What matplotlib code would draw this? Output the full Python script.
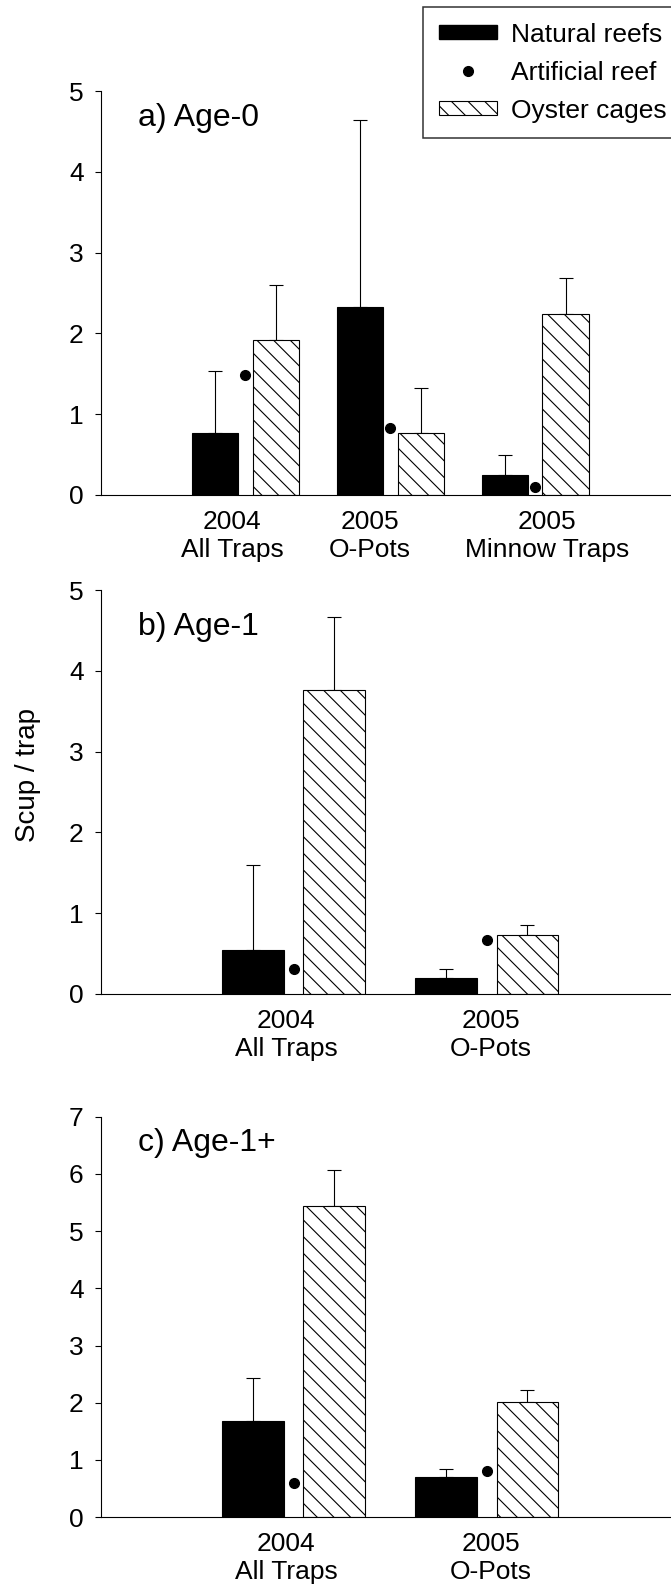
import matplotlib
matplotlib.use("Agg")
import matplotlib.pyplot as plt
from matplotlib.patches import Patch
from matplotlib.lines import Line2D
import numpy as np

# panel a) Age-0
labels_a = ["2004\nAll Traps", "2005\nO-Pots", "2005\nMinnow Traps"]
natural_a = [0.77, 2.33, 0.25]
natural_a_se = [0.77, 2.31, 0.24]
artificial_a = [1.49, 0.83, 0.10]
oyster_a = [1.92, 0.77, 2.24]
oyster_a_se = [0.68, 0.56, 0.45]

# panel b) Age-1
labels_b = ["2004\nAll Traps", "2005\nO-Pots"]
natural_b = [0.54, 0.20]
natural_b_se = [1.05, 0.10]
artificial_b = [0.31, 0.67]
oyster_b = [3.77, 0.73]
oyster_b_se = [0.90, 0.12]

# panel c) Age-1+
labels_c = ["2004\nAll Traps", "2005\nO-Pots"]
natural_c = [1.68, 0.70]
natural_c_se = [0.75, 0.15]
artificial_c = [0.59, 0.81]
oyster_c = [5.43, 2.01]
oyster_c_se = [0.64, 0.22]

plt.rcParams['font.family'] = ['Liberation Sans', 'DejaVu Sans']
plt.rcParams['hatch.linewidth'] = 0.8

W, H = 671, 1591
fig = plt.figure(figsize=(W / 100, H / 100), dpi=100)
HATCH = "\\\\"


def panel(rect, nat, nat_se, art, oys, oys_se, labels, label_pos, ymax, title, title_y):
    ax = fig.add_axes(rect)
    n = len(nat)
    g = np.arange(1, n + 1)
    w = 0.32
    ax.bar(g - 0.21, nat, w, color="black", edgecolor="black", linewidth=0.8, zorder=2)
    ax.bar(g + 0.21, oys, w, color="white", edgecolor="black", linewidth=0.8,
           hatch=HATCH, zorder=2)
    ax.errorbar(g - 0.21, nat, yerr=[np.zeros(n), nat_se], fmt="none", ecolor="black",
                elinewidth=0.8, capsize=5, capthick=0.8, zorder=1)
    ax.errorbar(g + 0.21, oys, yerr=[np.zeros(n), oys_se], fmt="none", ecolor="black",
                elinewidth=0.8, capsize=5, capthick=0.8, zorder=1)
    ax.plot(g, art, "o", color="black", markersize=7, zorder=3)
    ax.set_xlim(0, n + 1)
    ax.set_ylim(0, ymax)
    ax.set_yticks(range(0, ymax + 1))
    ax.set_xticks(label_pos)
    ax.set_xticklabels(labels, fontsize=19, linespacing=1.2)
    ax.tick_params(axis="x", length=0, pad=11)
    ax.tick_params(axis="y", length=4.3, width=0.8, pad=8, labelsize=19)
    for s in ["top", "right"]:
        ax.spines[s].set_visible(False)
    for s in ["left", "bottom"]:
        ax.spines[s].set_linewidth(0.8)
    ax.text(0.065, title_y, title, transform=ax.transAxes, fontsize=23, va="center", ha="left")
    return ax


left = 100.6 / W
width = 579.5 / W
panel([left, 1 - 495 / H, width, 404 / H], natural_a, natural_a_se, artificial_a,
      oyster_a, oyster_a_se, labels_a, [0.91, 1.86, 3.08], 5, "a) Age-0", 0.933)
panel([left, 1 - 993.7 / H, width, 403.4 / H], natural_b, natural_b_se, artificial_b,
      oyster_b, oyster_b_se, labels_b, [0.96, 2.02], 5, "b) Age-1", 0.909)
panel([left, 1 - 1517.2 / H, width, 400.6 / H], natural_c, natural_c_se, artificial_c,
      oyster_c, oyster_c_se, labels_c, [0.96, 2.02], 7, "c) Age-1+", 0.934)

fig.text(28 / W, 0.513, "Scup / trap", rotation=90, fontsize=20, ha="center", va="center")

handles = [
    Patch(facecolor="black", edgecolor="black", label="Natural reefs"),
    Line2D([], [], marker="o", color="black", linestyle="none", markersize=7, label="Artificial reef"),
    Patch(facecolor="white", edgecolor="black", hatch=HATCH, linewidth=0.8, label="Oyster cages"),
]
leg = fig.legend(handles=handles, loc="upper left", bbox_to_anchor=(422.7 / W, 1 - 6.7 / H),
                 borderaxespad=0, fontsize=19, frameon=True, fancybox=False, edgecolor="black",
                 borderpad=0.6, labelspacing=0.53, handlelength=2.23, handleheight=0.42,
                 handletextpad=0.51)
leg.get_frame().set_linewidth(1.1)

fig.savefig("out.png", dpi=100)
